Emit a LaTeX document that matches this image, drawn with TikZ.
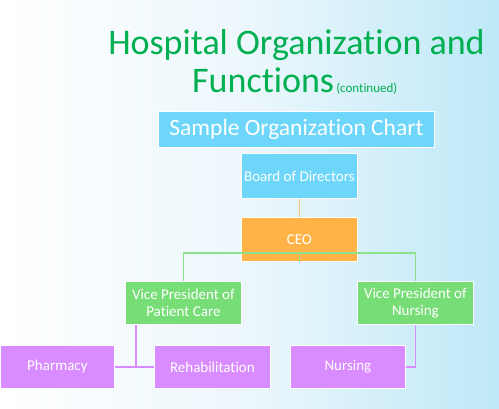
\documentclass[tikz,border=0pt]{standalone}
\usepackage{fontspec}
\setmainfont{Carlito}[Ligatures={NoCommon}]
\definecolor{bgblue}{RGB}{190,232,247}
\definecolor{bgmid}{RGB}{236,247,252}
\definecolor{titlegreen}{RGB}{0,176,80}
\definecolor{boxblue}{RGB}{109,214,250}
\definecolor{boxorange}{RGB}{255,179,71}
\definecolor{boxgreen}{RGB}{119,221,119}
\definecolor{boxpurple}{RGB}{217,140,255}
\definecolor{lineorange}{RGB}{240,196,130}
\definecolor{linegreen}{RGB}{140,226,140}
\begin{document}
\begin{tikzpicture}[x=1pt,y=-1pt,
  orgbox/.style={draw=white, line width=0.8pt, anchor=north west, text=white,
    minimum width=116pt, minimum height=44pt, inner sep=1pt, align=center,
    font=\fontsize{15}{17}\selectfont},
  blueline/.style={draw=lineorange, line width=1.5pt},
  greenline/.style={draw=linegreen, line width=1.5pt},
  purpleline/.style={draw=boxpurple, line width=1.5pt}]
\useasboundingbox (0,0) rectangle (499,408);
\shade[left color=white, right color=bgblue, middle color=bgmid] (0,0) rectangle (499,408);
% title
\node[anchor=base, text=titlegreen, font=\fontsize{36}{42}\selectfont, inner sep=0pt] (t1) at (296.5,54) {Hospital Organization and};
\node[anchor=base west, text=titlegreen, font=\fontsize{36}{42}\selectfont, inner sep=0pt] (t2) at (192,92) {Functions{\fontsize{13}{15}\selectfont\,(continued)}};
% chart title
\node[draw=white, line width=0.8pt, fill=boxblue, text=white, anchor=north west, minimum width=276pt, minimum height=36pt, inner sep=0pt, font=\fontsize{23.5}{28}\selectfont] (ct) at (158,111) {Sample Organization Chart};
% boxes
\node[orgbox, fill=boxblue, minimum height=45pt] (board) at (241,153) {Board of Directors};
\node[orgbox, fill=boxorange] (ceo) at (241,217) {CEO};
\node[orgbox, fill=boxgreen, minimum height=43pt] (vp1) at (125,281) {Vice President of\\Patient Care};
\node[orgbox, fill=boxgreen, minimum height=43pt] (vp2) at (357,281) {Vice President of\\Nursing};
\node[orgbox, fill=boxpurple, minimum width=114pt, minimum height=43pt] (pharm) at (0,345) {Pharmacy};
\node[orgbox, fill=boxpurple, minimum height=43pt] (rehab) at (154,345) {Rehabilitation};
\node[orgbox, fill=boxpurple, minimum width=115pt, minimum height=43pt] (nurs) at (290,345) {Nursing};
% connectors
\draw[blueline] (board.south) -- (ceo.north);
\coordinate (split) at ([yshift=9pt]ceo.south);
\draw[greenline] (ceo.south) -- (split);
\draw[greenline] (split) -| (vp1.north);
\draw[greenline] (split) -| (vp2.north);
\coordinate (vp1drop) at ([xshift=11pt]vp1.south west);
\draw[purpleline] (vp1drop) |- (pharm.east);
\draw[purpleline] (pharm.east) -- (rehab.west);
\draw[purpleline] (vp2.south) |- (nurs.east);
\end{tikzpicture}
\end{document}
